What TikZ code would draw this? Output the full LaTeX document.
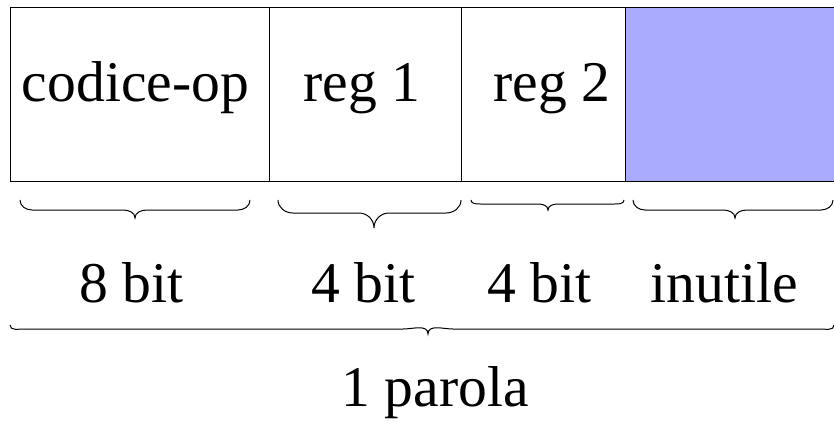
\documentclass[tikz,border=0pt]{standalone}
\usepackage{fontspec}
\setmainfont{Liberation Serif}
\definecolor{unused}{HTML}{AAAAFF}
\tikzset{
  cell/.style={draw=black, line width=1pt, minimum height=174pt, inner sep=0pt, anchor=north west},
  lbl/.style={font=\fontsize{57.6}{60}\selectfont, anchor=base, inner sep=0pt},
  brc/.style={draw=black, line width=1pt},
}
\newcommand{\mybrace}[8]{% x1 x2 y0 y1 xt yt r1 r2
  \draw[brc] (#1,#3) to[out=-90,in=180] (#1+#7,#4) -- (#5-#8,#4) to[out=0,in=90] (#5,#6)
    to[out=90,in=180] (#5+#8,#4) -- (#2-#7,#4) to[out=0,in=-90] (#2,#3);}
\begin{document}
\begin{tikzpicture}[x=1pt,y=-1pt]
\useasboundingbox (0,0) rectangle (834,421);
\begin{scope}
\clip (0,0) rectangle (834,421);
\node[cell, minimum width=259pt] (c1) at (10,7) {};
\node[cell, minimum width=192pt] (c2) at (269,7) {};
\node[cell, minimum width=164pt] (c3) at (461,7) {};
\node[cell, minimum width=211pt, fill=unused] (c4) at (625,7) {};
\end{scope}
\node[lbl] (t1) at (135.5,101) {codice-op};
\node[lbl] (t2) at (362,101) {reg 1};
\node[lbl] (t3) at (552,101) {reg 2};
\mybrace{20}{250}{200}{210}{135}{218}{12}{12}
\mybrace{278}{461}{200}{213}{374}{228}{15}{15}
\mybrace{471}{624}{200}{204}{548}{210}{10}{10}
\mybrace{633}{833}{200}{210}{735}{218}{12}{12}
\node[lbl] (b1) at (131.5,302) {8 bit};
\node[lbl] (b2) at (363,302) {4 bit};
\node[lbl] (b3) at (539,302) {4 bit};
\node[lbl] (b4) at (724,302) {inutile};
\mybrace{10}{834}{325}{329}{428}{334}{15}{25}
\node[lbl] (p) at (435,406) {1 parola};
\end{tikzpicture}
\end{document}
